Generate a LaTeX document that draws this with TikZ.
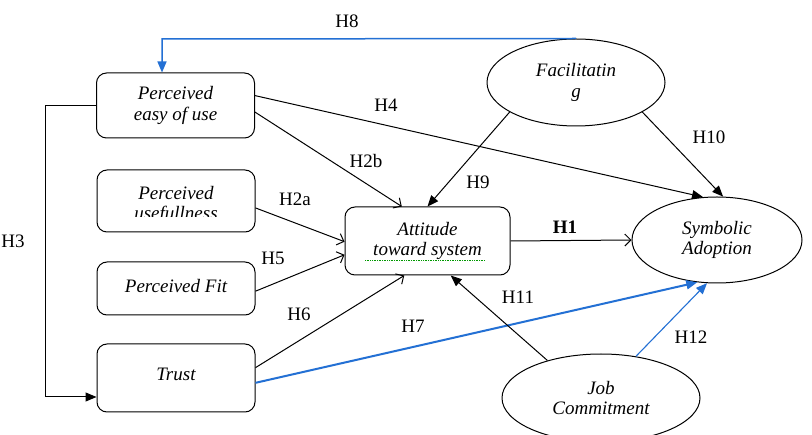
\documentclass[tikz,border=0pt]{standalone}
\usepackage{fontspec}
\setmainfont{Liberation Serif}
\usetikzlibrary{arrows.meta,calc,shapes.geometric}
\definecolor{hblue}{RGB}{35,112,212}
\begin{document}
\begin{tikzpicture}[x=1pt,y=-1pt,
  txt/.style={inner sep=0pt, align=center, font=\itshape\fontsize{19}{20.5}\selectfont},
  box/.style={txt, draw, rounded corners=10pt, line width=1pt, minimum width=158pt},
  oval/.style={txt, draw, ellipse, line width=1pt},
  lab/.style={inner sep=0pt, font=\fontsize{19}{20.5}\selectfont},
  link/.style={line width=1pt, -{Triangle[length=11pt,width=9pt]}},
  openlink/.style={line width=1pt, -{Straight Barb[length=6pt,width=12pt]}},
  bluelink/.style={hblue, -{Triangle[length=11pt,width=9pt]}}
]
\useasboundingbox (0,0) rectangle (812,435);
\clip (0,0) rectangle (812,435);
\fill[white] (0,0) rectangle (812,435);

% nodes
\node[box, minimum height=65pt] (easy) at (175.5,105.5) {Perceived\\easy of use};
\node[box, minimum height=62pt] (useful) at (176,201) {};
\begin{scope}
  \clip (97,171) rectangle (255,217);
  \node[txt] (usefultext) at (176,205) {Perceived\\usefullness};
\end{scope}
\node[box, minimum height=53pt] (fit) at (176,288.5) {\raisebox{6pt}{Perceived Fit}};
\node[box, minimum height=68pt] (trust) at (176,378) {\raisebox{8pt}{Trust}};
\node[box, minimum width=165pt, minimum height=68pt] (att) at (427.5,241) {Attitude\\toward system};
\node[oval, minimum width=170pt, minimum height=86pt] (sym) at (717,240) {Symbolic\\Adoption};
\node[oval, minimum width=178pt, minimum height=87pt] (fac) at (576,82.5) {Facilitatin\\g};
\node[oval, minimum width=198pt, minimum height=88pt] (job) at (601,398) {Job\\Commitment};

% spell-check underline
\draw[green!60!black, densely dotted, line width=0.7pt] (365,260) -- (485,260);

% helper coordinates
\coordinate (h3a) at (45,105.5);
\coordinate (h3b) at (45,397);
\coordinate (h8) at (162,39);

% connectors
\draw[link] (easy.west) -- (h3a) -- (h3b) -- (trust.west |- h3b);
\draw[bluelink, line width=1.5pt] (fac.north) -- (h8) -- (easy.north -| h8);
\draw[link] ($(easy.north east)!0.35!(easy.south east)$) -- (sym.108);
\draw[openlink] ($(easy.north east)!0.6!(easy.south east)$) -- ($(att.north west)!0.345!(att.north east)$);
\draw[openlink] ($(useful.north east)!0.61!(useful.south east)$) -- ($(att.north west)!0.51!(att.south west)$);
\draw[openlink] ($(fit.north east)!0.55!(fit.south east)$) -- ($(att.north west)!0.7!(att.south west)$);
\draw[openlink] ($(trust.north east)!0.35!(trust.south east)$) -- ($(att.south west)!0.36!(att.south east)$);
\draw[bluelink, line width=2pt] ($(trust.north east)!0.57!(trust.south east)$) -- (sym.245);
\draw[openlink] (att.east) -- (sym.west);
\draw[link] (job.145) -- ($(att.south west)!0.64!(att.south east)$);
\draw[bluelink, line width=1.1pt] (job.50) -- (sym.257);
\draw[link] (fac.204) -- (att.north);
\draw[link] (fac.336) -- (sym.82);

% labels
\node[lab] (lh8) at (347,21) {H8};
\node[lab] (lh4) at (386,105) {H4};
\node[lab] (lh2b) at (366,161) {H2b};
\node[lab] (lh2a) at (295,199) {H2a};
\node[lab] (lh5) at (273,258) {H5};
\node[lab] (lh6) at (299,314) {H6};
\node[lab] (lh3) at (13,241) {H3};
\node[lab] (lh7) at (413,326) {H7};
\node[lab, font=\bfseries\fontsize{19}{20.5}\selectfont] (lh1) at (565,227) {H1};
\node[lab] (lh11) at (518,297) {H11};
\node[lab] (lh12) at (691,337) {H12};
\node[lab] (lh9) at (478,182) {H9};
\node[lab] (lh10) at (709,137) {H10};
\end{tikzpicture}
\end{document}
